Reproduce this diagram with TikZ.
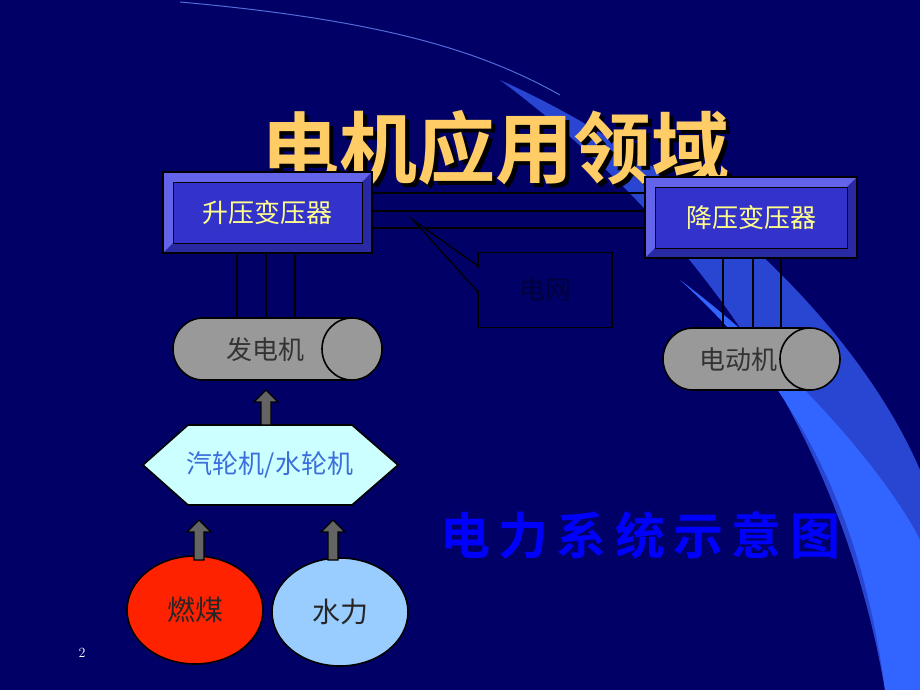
\documentclass[tikz,border=0pt]{standalone}
\usepackage{fontspec}
\newfontfamily\cjk{Noto Sans CJK SC}
\newfontfamily\cjkb{Noto Sans CJK SC Bold}
\usetikzlibrary{shapes.geometric,arrows.meta}
\definecolor{bg}{RGB}{0,0,102}
\definecolor{band}{RGB}{40,70,210}
\definecolor{bright}{RGB}{50,100,255}
\definecolor{boxf}{RGB}{51,51,204}
\definecolor{bevel}{RGB}{100,100,235}
\definecolor{ytext}{RGB}{255,255,140}
\definecolor{title}{RGB}{255,204,102}
\definecolor{cyl}{RGB}{153,153,153}
\definecolor{hexf}{RGB}{204,255,255}
\definecolor{hext}{RGB}{60,110,220}
\definecolor{coal}{RGB}{255,34,0}
\definecolor{water}{RGB}{153,204,255}
\definecolor{arr}{RGB}{100,100,100}
\tikzset{
 lbl/.style={font=\cjk\fontsize{26}{26}\selectfont},
 wire/.style={black,line width=1.6pt},
 barr/.style={fill=arr,draw=black,line width=1.2pt},
 src/.style={ellipse,draw=black,line width=1.6pt,minimum width=136pt,minimum height=108pt,font=\cjk\fontsize{28}{28}\selectfont},
}
\newcommand{\uparr}[3]{% x, ybottom, ytop
 \draw[barr] (#1-5,#2) -- (#1-5,#3+12) -- (#1-12,#3+12) -- (#1,#3) -- (#1+12,#3+12) -- (#1+5,#3+12) -- (#1+5,#2) -- cycle;}
\newcommand{\cylinder}[5]{% xl, xr, ytop, ybot, rx
 \draw[black,line width=1.6pt,fill=cyl] (#1,{(#3+#4)/2}) ellipse[x radius=#5,y radius={(#4-#3)/2}];
 \fill[cyl] (#1,#3) rectangle (#2,#4);
 \draw[black,line width=1.6pt] (#1,#3) -- (#2,#3) (#1,#4) -- (#2,#4);
 \draw[black,line width=1.6pt,fill=cyl] (#2,{(#3+#4)/2}) ellipse[x radius=#5,y radius={(#4-#3)/2}];}
\begin{document}
\begin{tikzpicture}[x=1pt,y=-1pt]
\useasboundingbox (0,0) rectangle (920,690);
\fill[bg] (0,0) rectangle (920,690);
\fill[band] (500,80) .. controls (700,170) and (860,330) .. (920,470) -- (920,690) -- (885,690) .. controls (840,430) and (700,230) .. (500,80) -- cycle;
\fill[bright] (680,280) .. controls (800,370) and (890,480) .. (920,540) -- (920,690) -- (885,690) .. controls (860,500) and (790,380) .. (680,280) -- cycle;
\draw[band!80,line width=1pt] (180,2) .. controls (380,20) and (480,50) .. (560,95);
% title
\node[font=\cjkb\fontsize{78}{78}\selectfont,text=black] at (499,152) {电机应用领域};
\node[font=\cjkb\fontsize{78}{78}\selectfont,text=title] (t) at (495,148) {电机应用领域};
% wires
\foreach \y in {193,211,228} \draw[wire] (372,\y) -- (645,\y);
% transformers
\foreach \n/\xa/\ya/\xb/\yb/\t in {up/163/172/372/253/升压变压器,down/645/177/857/258/降压变压器}{
 \fill[bevel,draw=black,line width=1.2pt] (\xa,\ya) rectangle (\xb,\yb);
 \fill[boxf!80!black] (\xa+10,\yb-10) -- (\xb-10,\yb-10) -- (\xb,\yb) -- (\xa,\yb) -- cycle;
 \fill[boxf!80!black] (\xb-10,\ya+10) -- (\xb,\ya) -- (\xb,\yb) -- (\xb-10,\yb-10) -- cycle;
 \draw[black,line width=1.2pt] (\xa,\ya) rectangle (\xb,\yb);
 \draw[black,fill=boxf,line width=1pt] (\xa+10,\ya+10) rectangle (\xb-10,\yb-10);
 \node[lbl,text=ytext] (\n) at ({(\xa+\xb)/2},{(\ya+\yb)/2}) {\t};
}
% grid callout
\node[draw=black,line width=1.5pt,minimum width=134pt,minimum height=75pt,lbl,text=bg!60!black] (grid) at (545,290) {电网};
\draw[black,line width=1.3pt,fill=bg] (478,266) -- (413,220) -- (478,292);
\draw[bg,line width=2pt] (478,268) -- (478,290);
% generator
\foreach \x in {237,266,295} \draw[wire] (\x,253) -- (\x,320);
\cylinder{203}{352}{318}{380}{30}
\node[lbl,text=black!80] (gen) at (265,350) {发电机};
% motor
\foreach \x in {723,753,781} \draw[wire] (\x,258) -- (\x,329);
\cylinder{693}{810}{328}{390}{30}
\node[lbl,text=black!80] (mot) at (738,360) {电动机};
% hexagon
\draw[black,line width=1.6pt,fill=hexf] (188,425) -- (352,425) -- (398,465) -- (352,505) -- (188,505) -- (143,465) -- cycle;
\node[lbl,text=hext] (hex) at (270,465) {汽轮机/水轮机};
% arrows
\uparr{266}{425}{390}
\node[src,fill=coal,text=black!85] (coal) at (195,610) {燃煤};
\node[src,fill=water,text=black!85] (water) at (340,612) {水力};
\uparr{199}{560}{520}
\uparr{333}{560}{520}
% caption
\node[font=\cjkb\fontsize{50}{50}\selectfont,text=blue] (cap) at (640,535) {电\,力\,系\,统\,示\,意\,图};
\node[text=white,font=\fontsize{14}{14}\selectfont] (pg) at (82,653) {2};
\end{tikzpicture}
\end{document}
